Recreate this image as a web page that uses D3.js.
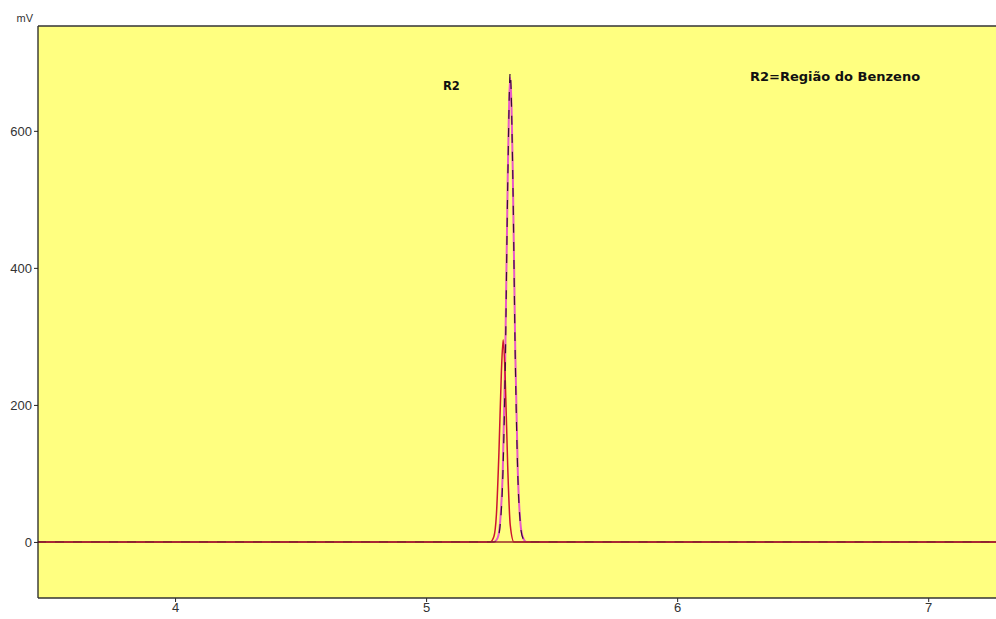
<!DOCTYPE html>
<html><head><meta charset="utf-8">
<script src="https://cdn.jsdelivr.net/npm/d3@7"></script>
<style>body{margin:0;background:#fff}svg{display:block}</style>
</head><body>
<script>
// Time (min) and signal (mV)
const darkTime   = [3.45, 5.27, 5.285, 5.295, 5.305, 5.315, 5.325, 5.335, 5.345, 5.355, 5.365, 5.375, 5.385, 5.40, 7.27];
const darkSignal = [0,    0,    5,     25,    90,    250,   520,   685,   540,   270,   100,   28,    6,     0,    0];
const pinkTime   = [3.45, 5.27, 5.285, 5.295, 5.305, 5.315, 5.325, 5.335, 5.345, 5.355, 5.365, 5.375, 5.385, 5.40, 7.27];
const pinkSignal = [0,    0,    6,     30,    100,   265,   530,   678,   545,   280,   105,   30,    7,     0,    0];
const redTime    = [3.45, 5.255, 5.27, 5.28, 5.29, 5.30, 5.307, 5.315, 5.325, 5.335, 5.35, 7.27];
const redSignal  = [0,    0,     8,    40,   130,  250,  295,   240,   110,   25,    0,    0];
const yTicks = [0, 200, 400, 600];
const xTicks = [4, 5, 6, 7];
const yLabel = "mV";
const peakLabel = "R2";
const noteLabel = "R2=Região do Benzeno";

const W = 996, H = 619;
const m = {left: 38, top: 26, right: 0, bottom: 21};
const svg = d3.select("body").append("svg").attr("width", W).attr("height", H);
const x = d3.scaleLinear().domain([3.454, 7.27]).range([m.left, W - m.right]);
const y = d3.scaleLinear().domain([-81.8, 753]).range([H - m.bottom, m.top]);

svg.append("rect").attr("x", m.left).attr("y", m.top)
  .attr("width", W - m.right - m.left).attr("height", H - m.bottom - m.top)
  .attr("fill", "#ffff80");

svg.append("clipPath").attr("id", "c").append("rect")
  .attr("x", m.left).attr("y", m.top).attr("width", W - m.left).attr("height", H - m.bottom - m.top);

const g = svg.append("g").attr("clip-path", "url(#c)");
const line = d3.line().x(d => x(d[0])).y(d => y(d[1])).curve(d3.curveMonotoneX);

g.append("path").datum(pinkTime.map((t, i) => [t, pinkSignal[i]]))
  .attr("d", line).attr("fill", "none").attr("stroke", "#e85ac8").attr("stroke-width", 2);
g.append("path").datum(redTime.map((t, i) => [t, redSignal[i]]))
  .attr("d", line).attr("fill", "none").attr("stroke", "#cc1530").attr("stroke-width", 1.5);
g.append("path").datum(darkTime.map((t, i) => [t, darkSignal[i]]))
  .attr("d", line).attr("fill", "none").attr("stroke", "#3a0c3a").attr("stroke-width", 1.2)
  .attr("stroke-dasharray", "9,9");
// baseline
g.append("line").attr("x1", m.left).attr("x2", W).attr("y1", y(0)).attr("y2", y(0))
  .attr("stroke", "#9a2a28").attr("stroke-width", 1.6);

// axes
const yAxis = d3.axisLeft(y).tickValues(yTicks).tickSize(4).tickPadding(2);
const ya = svg.append("g").attr("transform", `translate(${m.left},0)`).call(yAxis);
const xAxis = d3.axisBottom(x).tickValues(xTicks).tickSize(4).tickPadding(1).tickFormat(d3.format("d"));
const xa = svg.append("g").attr("transform", `translate(0,${H - m.bottom})`).call(xAxis);
[ya, xa].forEach(a => {
  a.select(".domain").remove();
  a.selectAll("text").attr("font-family", "Liberation Sans, Arial, sans-serif").attr("font-size", 13).attr("fill", "#333");
  a.selectAll("line").attr("stroke", "#222");
});
// frame lines
svg.append("line").attr("x1", m.left).attr("x2", m.left).attr("y1", m.top).attr("y2", H - m.bottom).attr("stroke", "#222").attr("stroke-width", 1.3);
svg.append("line").attr("x1", m.left).attr("x2", W).attr("y1", H - m.bottom).attr("y2", H - m.bottom).attr("stroke", "#333").attr("stroke-width", 1.3);
svg.append("line").attr("x1", m.left).attr("x2", W).attr("y1", m.top).attr("y2", m.top).attr("stroke", "#333").attr("stroke-width", 1.3);

svg.append("text").attr("x", 33).attr("y", 22).attr("text-anchor", "end")
  .attr("font-family", "Liberation Sans, Arial, sans-serif").attr("font-size", 11).attr("fill", "#333").text(yLabel);

svg.append("text").attr("x", 443).attr("y", 90).attr("font-family", "DejaVu Sans, sans-serif")
  .attr("font-weight", "bold").attr("font-size", 11.5).attr("fill", "#111").text(peakLabel);
svg.append("text").attr("x", 750).attr("y", 81).attr("font-family", "DejaVu Sans, sans-serif")
  .attr("font-weight", "bold").attr("font-size", 13).attr("fill", "#111").text(noteLabel);
</script>
</body></html>
